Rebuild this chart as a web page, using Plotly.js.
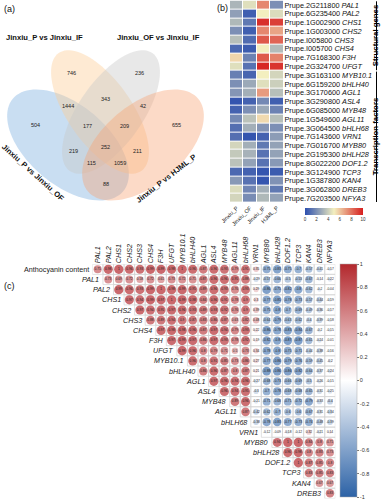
<!DOCTYPE html>
<html><head><meta charset="utf-8">
<script src="https://cdn.plot.ly/plotly-3.0.1.min.js"></script>
<style>html,body{margin:0;padding:0;background:#fff}#chart{width:386px;height:500px}</style>
</head><body><div id="chart"></div>
<script>
// ================= DATA =================
// (a) Venn
const vennSetNames = ["Jinxiu_P vs Jinxiu_OF", "Jinxiu_P vs Jinxiu_IF", "Jinxiu_OF vs Jinxiu_IF", "Jinxiu_P vs HJML_P"];
const vennRegionSets = ["A","B","C","D","AB","BC","CD","AD","AC","BD","ABC","BCD","ACD","ABD","ABCD"];
const vennRegionCounts = [504, 746, 236, 655, 1444, 343, 42, 88, 219, 211, 177, 209, 115, 1059, 252];

// (b) heatmap
const hmGeneIds = ["Prupe.2G211800","Prupe.6G235400","Prupe.1G002900","Prupe.1G003000","Prupe.I005800","Prupe.I005700","Prupe.7G168300","Prupe.2G324700","Prupe.3G163100","Prupe.6G159200","Prupe.3G170600","Prupe.3G290800","Prupe.6G085000","Prupe.1G549600","Prupe.3G064500","Prupe.7G143600","Prupe.7G016700","Prupe.2G195300","Prupe.8G022200","Prupe.3G124900","Prupe.1G387800","Prupe.3G062800","Prupe.7G203500"];
const hmGenes = ["PAL1","PAL2","CHS1","CHS2","CHS3","CHS4","F3H","UFGT","MYB10.1","bHLH40","AGL1","ASL4","MYB48","AGL11","bHLH68","VRN1","MYB80","bHLH28","DOF1.2","TCP3","KAN4","DREB3","NFYA3"];
const hmSamples = ["Jinxiu_P","Jinxiu_OF","Jinxiu_IF","HJML_P"];
const hmJinxiuP  = [3.2, 2.5, 3.3, 2.0, 3.5, 0.8, 5.6, 4.5, 1.5, 2.0, 2.2, 0.2, 0.6, 1.8, 1.0, 1.0, 4.2, 3.8, 3.6, 0.8, 2.3, 4.4, 4.2];
const hmJinxiuOF = [4.5, 0.5, 1.3, 0.5, 0.9, 0.4, 1.6, 1.1, 0.7, 2.8, 3.0, 0.6, 2.0, 3.6, 3.0, 0.2, 3.0, 3.1, 2.6, 0.6, 1.1, 1.7, 1.9];
const hmJinxiuIF = [7.5, 5.0, 9.6, 7.5, 8.6, 5.0, 8.6, 9.8, 5.0, 4.5, 7.0, 1.8, 2.8, 5.5, 2.2, 0.6, 1.3, 1.1, 1.1, 0.2, 0.2, 3.0, 3.3];
const hmHJMLP    = [2.0, 4.4, 9.2, 6.8, 8.3, 3.4, 7.6, 9.5, 4.2, 4.0, 3.5, 0.5, 1.6, 3.5, 2.0, 2.4, 2.6, 2.6, 2.3, 0.4, 2.1, 1.3, 2.6];
const hmGroups = ["Structural genes", "Transcription factors"];
const hmGroupSizes = [8, 15];

// (c) correlation (upper triangle; row r holds columns r..22)
const corrRowNames = ["Anthocyanin content","PAL1","PAL2","CHS1","CHS2","CHS3","CHS4","F3H","UFGT","MYB10.1","bHLH40","AGL1","ASL4","MYB48","AGL11","bHLH68","VRN1","MYB80","bHLH28","DOF1.2","TCP3","KAN4","DREB3"];
const corrColNames = ["PAL1","PAL2","CHS1","CHS2","CHS3","CHS4","F3H","UFGT","MYB10.1","bHLH40","AGL1","ASL4","MYB48","AGL11","bHLH68","VRN1","MYB80","bHLH28","DOF1.2","TCP3","KAN4","DREB3","NFYA3"];
const corrAnth   = [0.75,0.98,1,0.96,0.93,0.99,0.99,0.98,1,0.96,0.87,0.96,0.93,0.79,0.91,0.35,-0.75,-0.83,-0.75,-0.7,-0.57,-0.41,-0.17];
const corrPAL1   = [0.73,0.69,0.72,0.58,0.72,0.61,0.73,0.72,0.71,0.87,0.96,0.96,0.95,0.88,-0.29,-0.57,-0.66,-0.5,-0.53,-0.67,-0.14,-0.22];
const corrPAL2   = [0.99,0.96,0.93,0.99,1,0.98,0.99,0.95,0.89,0.96,0.93,0.76,0.93,0.29,-0.86,-0.75,-0.82,-0.8,-0.62,-0.2,-0.04];
const corrCHS1   = [0.97,0.94,0.99,0.97,1,0.99,0.98,0.84,0.96,0.91,0.78,0.9,0.3,-0.77,-0.85,-0.78,-0.73,-0.57,-0.44,-0.19];
const corrCHS2   = [0.97,0.94,0.95,0.97,0.96,0.93,0.89,0.93,0.92,0.76,0.9,0.39,-0.75,-0.8,-0.7,-0.69,-0.49,-0.36,-0.17];
const corrCHS3   = [0.88,0.89,0.94,0.9,0.87,0.83,0.86,0.87,0.63,0.82,0.48,-0.64,-0.79,-0.63,-0.62,-0.4,-0.39,-0.18];
const corrCHS4   = [0.97,0.98,0.98,0.96,0.87,0.97,0.94,0.79,0.93,0.22,-0.86,-0.78,-0.83,-0.84,-0.67,-0.2,-0.15];
const corrF3H    = [0.97,0.99,0.97,0.86,0.97,0.93,0.78,0.92,0.19,-0.82,-0.8,-0.87,-0.87,-0.61,-0.24,-0.01];
const corrUFGT   = [0.99,0.96,0.8,0.79,0.71,0.5,0.73,0.34,-0.78,-0.8,-0.75,-0.71,-0.44,-0.38,-0.16];
const corrMYB101 = [0.96,0.8,0.91,0.85,0.73,0.86,0.27,-0.77,-0.86,-0.79,-0.76,-0.59,-0.45,-0.2];
const corrBHLH40 = [0.86,0.96,0.87,0.8,0.87,0.21,-0.88,-0.86,-0.86,-0.82,-0.64,-0.37,-0.24];
const corrAGL1   = [0.97,0.96,0.94,0.96,-0.27,-0.68,-0.73,-0.66,-0.69,-0.5,-0.26,-0.15];
const corrASL4   = [0.96,0.94,0.95,-0.3,-0.7,-0.78,-0.68,-0.68,-0.65,-0.31,-0.25];
const corrMYB48  = [0.89,0.96,-0.21,-0.71,-0.68,-0.71,-0.72,-0.79,-0.33,-0.4];
const corrAGL11  = [0.87,-0.42,-0.62,-0.7,-0.6,-0.6,-0.67,-0.31,-0.34];
const corrBHLH68 = [-0.38,-0.78,-0.83,-0.77,-0.73,-0.74,-0.48,-0.39];
const corrVRN1   = [-0.12,-0.09,-0.18,-0.12,0.32,-0.21,0.14];
const corrMYB80  = [0.94,1,1,0.84,0.8,0.71];
const corrBHLH28 = [0.96,0.98,0.8,0.83,0.73];
const corrDOF12  = [1,0.87,0.85,0.8];
const corrTCP3   = [0.83,0.85,0.83];
const corrKAN4   = [0.67,0.67];
const corrDREB3  = [0.83];
const corrCbTicks = [-1,-0.8,-0.6,-0.4,-0.2,0,0.2,0.4,0.6,0.8,1];
const hmCbTicks = [0,2,4,6,8,10];

// ================= LAYOUT CONSTANTS =================
const W = 386, H = 500;
const FONT = '"Liberation Sans", Arial, sans-serif';
const fx = p => p / W, fy = p => 1 - p / H;

const corrRows = [corrAnth,corrPAL1,corrPAL2,corrCHS1,corrCHS2,corrCHS3,corrCHS4,corrF3H,corrUFGT,corrMYB101,corrBHLH40,corrAGL1,corrASL4,corrMYB48,corrAGL11,corrBHLH68,corrVRN1,corrMYB80,corrBHLH28,corrDOF12,corrTCP3,corrKAN4,corrDREB3];

const shapes = [], annotations = [];

// ---------- (a) Venn ----------
const ells = [
  {cx:68,  cy:145, a:72, b:40, ang:40,  fill:'rgba(120,172,222,0.40)'},
  {cx:100, cy:112, a:72, b:32, ang:55,  fill:'rgba(252,206,150,0.42)'},
  {cx:111, cy:112, a:72, b:32, ang:125, fill:'rgba(200,200,200,0.42)'},
  {cx:143, cy:145, a:72, b:40, ang:140, fill:'rgba(248,162,116,0.40)'}
];
ells.forEach(e => {
  const t = e.ang*Math.PI/180, c = Math.cos(t), s = Math.sin(t);
  let p = '';
  for (let i = 0; i <= 96; i++) {
    const th = i/96*2*Math.PI;
    const x = e.cx + e.a*Math.cos(th)*c - e.b*Math.sin(th)*s;
    const y = e.cy + e.a*Math.cos(th)*s + e.b*Math.sin(th)*c;
    p += (i ? ' L ' : 'M ') + x.toFixed(2) + ' ' + y.toFixed(2);
  }
  shapes.push({type:'path', xref:'x', yref:'y', path:p + ' Z', fillcolor:e.fill, line:{width:0}, layer:'below'});
});
// label positions: most interior point of each region
const best = {};
for (let x = 0; x <= 212; x += 0.5) for (let y = 40; y <= 215; y += 0.5) {
  let mask = 0, clr = Infinity;
  ells.forEach((e, k) => {
    const t = e.ang*Math.PI/180, c = Math.cos(t), s = Math.sin(t);
    const dx = x-e.cx, dy = y-e.cy, u = dx*c+dy*s, v = -dx*s+dy*c;
    const q = u*u/(e.a*e.a) + v*v/(e.b*e.b);
    if (q < 1) mask |= (1 << k);
    const g = Math.sqrt(u*u/Math.pow(e.a,4) + v*v/Math.pow(e.b,4));
    const sq = Math.sqrt(q);
    const d = g > 1e-9 ? Math.abs(sq-1)*sq/g : 1e9;
    if (d < clr) clr = d;
  });
  if (mask && (!best[mask] || clr > best[mask].c)) best[mask] = {x, y, c:clr};
}
vennRegionSets.forEach((rs, i) => {
  let m = 0; for (const ch of rs) m |= 1 << ('ABCD'.indexOf(ch));
  const p = best[m]; if (!p) return;
  annotations.push({xref:'x', yref:'y', x:p.x, y:p.y, text:String(vennRegionCounts[i]), showarrow:false, font:{size:5.5, color:'#222', family:FONT}});
});
const setLabelPos = [
  {x:33, y:172, ang:42}, {x:44.5, y:37, ang:0}, {x:158, y:37, ang:0}, {x:166, y:178, ang:-38}
];
vennSetNames.forEach((n, i) => {
  const p = setLabelPos[i];
  annotations.push({xref:'x', yref:'y', x:p.x, y:p.y, text:'<b>'+n+'</b>', textangle:p.ang, showarrow:false, font:{size:7.6, color:'#111', family:FONT}});
});

// ---------- (b) heatmap ----------
const hmZ = hmGenes.map((g, i) => [hmJinxiuP[i], hmJinxiuOF[i], hmJinxiuIF[i], hmHJMLP[i]]);
const hmRowIdx = hmGenes.map((g, i) => i);
let start = 0;
hmGroups.forEach((g, k) => {
  const y0 = start - 0.42, y1 = start + hmGroupSizes[k] - 0.58;
  shapes.push({type:'line', xref:'paper', yref:'y2', x0:fx(376.5), x1:fx(376.5), y0, y1, line:{color:'#000', width:1}});
  annotations.push({xref:'paper', yref:'y2', x:fx(382), y:(y0+y1)/2, text:'<b>'+g+'</b>', textangle:-90, showarrow:false, font:{size:7.8, color:'#000', family:FONT}});
  start += hmGroupSizes[k];
});

// ---------- (c) correlation ----------
const cx = [], cy = [], cv = [], ctext = [];
corrRows.forEach((row, r) => {
  row.forEach((v, j) => {
    const c = r + j;
    cx.push(c); cy.push(r); cv.push(v); ctext.push(String(Math.round(v*100)/100));
    shapes.push({type:'rect', xref:'x3', yref:'y3', x0:c-0.5, x1:c+0.5, y0:r-0.5, y1:r+0.5, line:{color:'#d4d4d4', width:0.7}, fillcolor:'rgba(0,0,0,0)', layer:'below'});
  });
  annotations.push({xref:'x3', yref:'y3', x:r-0.5, y:r, xanchor:'right', xshift:-1.5,
    text: r === 0 ? corrRowNames[r] : '<i>'+corrRowNames[r]+'</i>', showarrow:false, font:{size:7.2, color:'#222', family:FONT}});
});

// panel labels
[['(a)',2,2],['(b)',215,1],['(c)',2,279]].forEach(([t,x,y]) => annotations.push({xref:'paper', yref:'paper', x:fx(x), y:fy(y), xanchor:'left', yanchor:'top', text:t, showarrow:false, font:{size:9, color:'#111', family:FONT}}));

const hmScale = [[0,'#2c4fae'],[0.5,'#f3efbf'],[1,'#d61e1e']];
const corrScale = [[0,'#2c62a6'],[0.5,'#ffffff'],[1,'#b3282d']];

const traces = [
  {type:'scatter', x:[], y:[], xaxis:'x', yaxis:'y', hoverinfo:'skip', showlegend:false},
  {type:'heatmap', x:[0,1,2,3], y:hmRowIdx, z:hmZ, xaxis:'x2', yaxis:'y2', zmin:0, zmax:10, colorscale:hmScale, xgap:1, ygap:1, hoverinfo:'skip',
    colorbar:{orientation:'h', x:fx(334), xanchor:'center', y:fy(208), yanchor:'top', len:58, lenmode:'pixels', thickness:7, thicknessmode:'pixels',
      tickvals:hmCbTicks, ticks:'', tickfont:{size:4.5, family:FONT, color:'#333'}, outlinewidth:0, xpad:0, ypad:0}},
  {type:'scatter', mode:'markers+text', x:cx, y:cy, xaxis:'x3', yaxis:'y3', text:ctext, textposition:'middle center',
    textfont:{size:3.2, color:'#1a1a1a', family:FONT}, hoverinfo:'skip', showlegend:false,
    marker:{size:cv.map(v => 9.3*Math.sqrt(Math.abs(v))), color:cv, cmin:-1, cmax:1, colorscale:corrScale, line:{width:0},
      colorbar:{x:fx(340), xanchor:'left', y:fy(264), yanchor:'top', len:233, lenmode:'pixels', thickness:17, thicknessmode:'pixels',
        tickvals:corrCbTicks, ticktext:corrCbTicks.map(String), ticks:'outside', ticklen:2, tickcolor:'#777',
        tickfont:{size:5.5, family:FONT, color:'#333'}, outlinewidth:0.5, outlinecolor:'#aaa', xpad:0, ypad:0}}}
];

const noGrid = {showgrid:false, zeroline:false, showline:false, ticks:''};
const layout = {
  width:W, height:H, margin:{l:0,r:0,t:0,b:0}, paper_bgcolor:'#fff', plot_bgcolor:'rgba(0,0,0,0)',
  font:{family:FONT}, showlegend:false,
  xaxis:{domain:[0,1], range:[0,W], visible:false, fixedrange:true},
  yaxis:{domain:[0,1], range:[H,0], visible:false, fixedrange:true},
  xaxis2:Object.assign({domain:[fx(230), fx(283.5)], range:[-0.5,3.5], anchor:'y2', tickvals:[0,1,2,3], ticktext:hmSamples, tickangle:-45, tickfont:{size:5.6, color:'#222'}}, noGrid),
  yaxis2:Object.assign({domain:[fy(202.7), fy(0.6)], range:[22.5,-0.5], anchor:'x2', side:'right', tickvals:hmRowIdx,
    ticktext:hmGenes.map((g,i) => hmGeneIds[i]+' <i>'+g+'</i>'), tickfont:{size:7.3, color:'#111'}}, noGrid),
  xaxis3:Object.assign({domain:[fx(92.4), fx(335.3)], range:[-0.5,22.5], anchor:'y3', side:'top', tickvals:corrColNames.map((n,i)=>i),
    ticktext:corrColNames.map(n => '<i>'+n+'</i>'), tickangle:-90, tickfont:{size:7.2, color:'#222'}}, noGrid),
  yaxis3:Object.assign({domain:[fy(498.4), fy(264.2)], range:[22.5,-0.5], anchor:'x3', showticklabels:false}, noGrid),
  shapes, annotations
};
Plotly.newPlot('chart', traces, layout, {staticPlot:true, displayModeBar:false});
</script></body></html>
